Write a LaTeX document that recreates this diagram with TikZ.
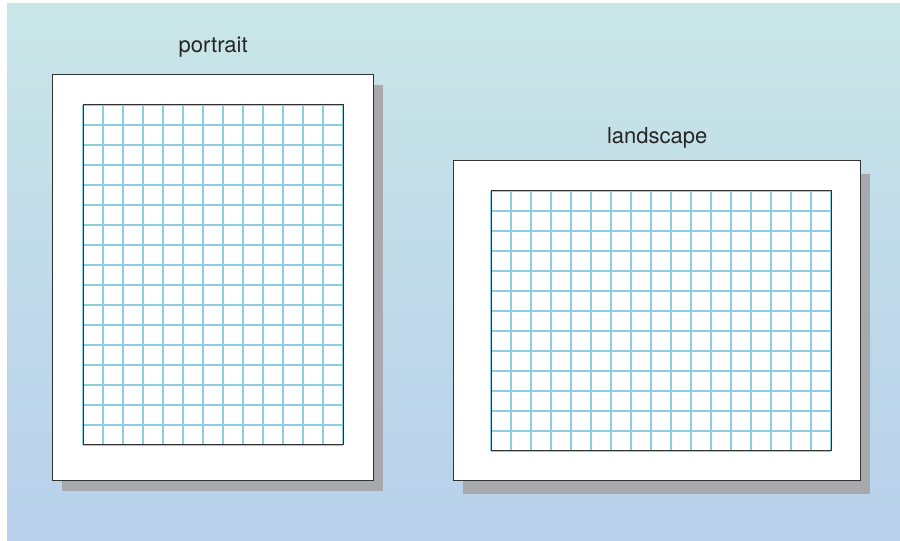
\documentclass[tikz,border=0pt]{standalone}
\usepackage{fontspec}
\setmainfont{TeX Gyre Heros}
\usetikzlibrary{positioning}

\definecolor{bgtop}{RGB}{201,230,231}
\definecolor{bgbottom}{RGB}{184,208,236}
\definecolor{shadowgray}{RGB}{168,169,172}
\definecolor{gridcyan}{RGB}{140,207,222}
\definecolor{edgegray}{RGB}{51,51,51}

\begin{document}
\begin{tikzpicture}[x=1pt,y=1pt,
  page/.style={draw=edgegray,line width=1.4pt,fill=white,inner sep=0pt,anchor=south west},
  pageshadow/.style={fill=shadowgray,inner sep=0pt,anchor=south west},
  gridframe/.style={draw=edgegray,line width=1.4pt,inner sep=0pt,anchor=south west},
  gridline/.style={draw=gridcyan,line width=1.2pt},
  sheetlabel/.style={font=\fontsize{22}{26}\selectfont,text=black!85}]
  \useasboundingbox (0,0) rectangle (900,541);
  \shade[top color=bgtop,bottom color=bgbottom] (7,0) rectangle (900,537);

  % portrait sheet
  \node[pageshadow,minimum width=321,minimum height=406] (ps) at (62,50) {};
  \node[page,minimum width=321,minimum height=406] (pp) at (52,60) {};
  \draw[gridline,shift={(83,96)}] (0,0) grid[step=20] (260,340);
  \node[gridframe,minimum width=260,minimum height=340] (pg) at (83,96) {};
  \node[sheetlabel,above=13pt of pp.north] (pl) {portrait};

  % landscape sheet
  \node[pageshadow,minimum width=407,minimum height=320] (ls) at (463,47) {};
  \node[page,minimum width=407,minimum height=320] (lp) at (453,60) {};
  \draw[gridline,shift={(491,90)}] (0,0) grid[step=20] (340,260);
  \node[gridframe,minimum width=340,minimum height=260] (lg) at (491,90) {};
  \node[sheetlabel,above=8pt of lp.north] (ll) {landscape};
\end{tikzpicture}
\end{document}
